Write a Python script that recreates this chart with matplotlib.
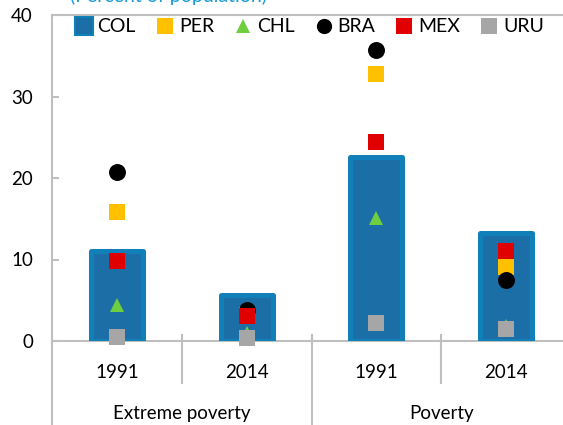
import matplotlib
matplotlib.use("Agg")
import matplotlib.pyplot as plt
from matplotlib.lines import Line2D

plt.rcParams['font.family'] = ['Lato', 'DejaVu Sans']

# ---- data ----
categories = ["1991", "2014", "1991", "2014"]
groups = ["Extreme poverty", "Poverty"]
COL = [11.1, 5.7, 22.6, 13.2]
PER = [15.8, 3.2, 32.7, 9.1]
CHL = [4.4, 1.0, 15.1, 1.8]
BRA = [20.7, 3.8, 35.7, 7.5]
MEX = [9.8, 3.1, 24.4, 11.0]
URU = [0.55, 0.4, 2.2, 1.5]
yticks = [0, 10, 20, 30, 40]
title = "(Percent of population)"

W, H = 563, 425
fig = plt.figure(figsize=(W / 100, H / 100), dpi=100)

def fx(px):
    return px / W

def fy(py):
    return 1 - py / H

left_px, right_px, top_px, bot_px = 52.4, 570.8, 15, 341
ax = fig.add_axes([fx(left_px), fy(bot_px), (right_px - left_px) / W, (bot_px - top_px) / H])
ax.set_xlim(-0.5, 3.5)
ax.set_ylim(0, 40)

grey = '#bfbfbf'
x = list(range(len(categories)))

bars = ax.bar(x, COL, width=0.40, color='#1b6ea6', edgecolor='#1280b8',
              linewidth=3.6, zorder=2)
for b in bars:
    b.set_joinstyle('round')

series = [
    ("PER", PER, 's', '#ffc000', 12.2, 3),
    ("CHL", CHL, '^', '#6fce3f', 10.5, 4),
    ("BRA", BRA, 'o', '#000000', 12.2, 5),
    ("MEX", MEX, 's', '#e00000', 12.2, 6),
    ("URU", URU, 's', '#a6a6a6', 12.2, 7),
]
for name, vals, m, c, ms, z in series:
    ax.plot(x, vals, linestyle='none', marker=m, color=c, markersize=ms,
            markeredgewidth=0, zorder=z, clip_on=False)

# spines
for s in ['right', 'left']:
    ax.spines[s].set_visible(False)
ax.spines['top'].set_color(grey)
ax.spines['top'].set_linewidth(1.5)
ax.spines['bottom'].set_color(grey)
ax.spines['bottom'].set_linewidth(1.5)
ax.spines['bottom'].set_zorder(1.5)

ax.set_yticks(yticks)
ax.tick_params(axis='y', direction='in', length=5, width=1.5, color=grey,
               labelsize=13.5, pad=14, labelcolor='#000000')
ax.set_xticks([])

trans = ax.get_xaxis_transform()
# left axis line extending to bottom of figure
ax.plot([-0.5, -0.5], [1, -0.27], transform=trans, color=grey, lw=1.5, clip_on=False, zorder=1)
for xd, ybot in [(0.5, -0.129), (1.5, -0.27), (2.5, -0.129)]:
    ax.plot([xd, xd], [0.018, ybot], transform=trans, color=grey, lw=1.5, clip_on=False, zorder=1)

for xi, lab in zip(x, categories):
    ax.text(xi, -(372 - 341) / 326, lab, transform=trans, ha='center', va='center', fontsize=13.5)
for gi, g in enumerate(groups):
    ax.text(0.5 + 2 * gi, -(413 - 341) / 326, g, transform=trans, ha='center', va='center', fontsize=13.5)

fig.text(fx(70), fy(2), title, color='#1b9bd7', fontsize=14, ha='left', va='baseline')

handles = [Line2D([], [], linestyle='none', marker='s', markersize=13.5,
                  markerfacecolor='#1b6ea6', markeredgecolor='#1280b8', markeredgewidth=1.5)]
for name, vals, m, c, ms, z in series:
    handles.append(Line2D([], [], linestyle='none', marker=m, color=c,
                          markersize=ms * 0.9, markeredgewidth=0))
labels = ["COL"] + [s[0] for s in series]
fig.legend(handles, labels, loc='center left', bbox_to_anchor=(fx(73.8), fy(27)),
           ncol=6, frameon=False, fontsize=14, handlelength=1.0, handletextpad=0.22,
           columnspacing=0.99, borderpad=0, borderaxespad=0)

fig.savefig("out.png", dpi=100)
